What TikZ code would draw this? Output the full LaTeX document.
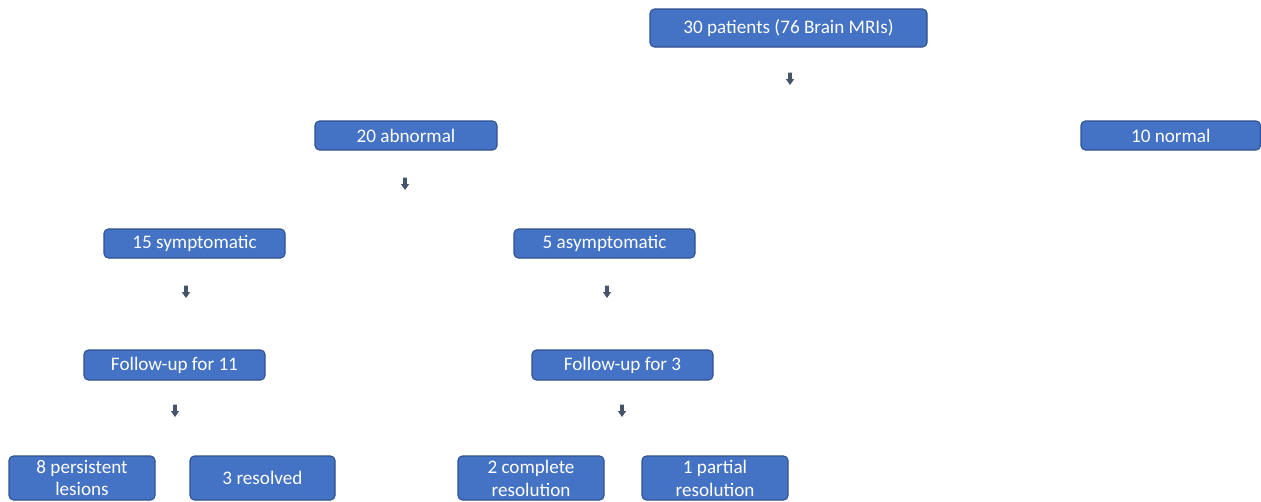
\documentclass[tikz,border=0pt]{standalone}
\usepackage{fontspec}
\setmainfont{Carlito}
\definecolor{boxfill}{HTML}{4472C4}
\definecolor{boxline}{HTML}{2F528F}
\definecolor{arrowcol}{HTML}{44546A}
\begin{document}
\begin{tikzpicture}[x=0.02cm,y=-0.02cm,
  box/.style={draw=boxline, line width=0.6pt, fill=boxfill, rounded corners=2.5pt,
    text=white, font=\fontsize{10.9}{13}\selectfont, align=center, inner sep=0pt},
  darrow/.style={fill=arrowcol, draw=none}]
\useasboundingbox (0,0) rectangle (1261,501);
\newcommand{\boxat}[6]{% name, x1,y1,x2,y2, text
  \node[box, minimum width={(#4-#2)*0.02cm}, minimum height={(#5-#3)*0.02cm}] (#1) at ({(#2+#4)/2},{(#3+#5)/2}) {#6};}
\newcommand{\smallarrow}[3]{% name, x, y
  \coordinate (#1) at (#2,#3);
  \fill[darrow] ([shift={(-1.8,-6.5)}]#1) -- ([shift={(1.8,-6.5)}]#1) -- ([shift={(1.8,0)}]#1) -- ([shift={(4.2,0)}]#1)
    -- ([shift={(0,6)}]#1) -- ([shift={(-4.2,0)}]#1) -- ([shift={(-1.8,0)}]#1) -- cycle;}
\boxat{top}{650}{9}{927}{47}{30 patients (76 Brain MRIs)}
\boxat{abn}{315}{121}{497}{150}{20 abnormal}
\boxat{norm}{1081}{121}{1260.5}{150}{10 normal}
\boxat{sym}{104}{229}{285}{258}{15 symptomatic}
\boxat{asym}{514}{229}{695}{258}{5 asymptomatic}
\boxat{fu11}{84}{350}{265}{380}{Follow-up for 11}
\boxat{fu3}{532}{350}{713}{380}{Follow-up for 3}
\boxat{pers}{9}{456}{155}{500}{8 persistent\\lesions}
\boxat{res}{190}{456}{335}{500}{3 resolved}
\boxat{comp}{458}{456}{604}{500}{2 complete\\resolution}
\boxat{part}{642}{456}{788}{500}{1 partial\\resolution}
\smallarrow{a1}{790}{79}
\smallarrow{a2}{405}{184}
\smallarrow{a3}{186}{292}
\smallarrow{a4}{607}{292}
\smallarrow{a5}{175}{411}
\smallarrow{a6}{622}{411}
\end{tikzpicture}
\end{document}
